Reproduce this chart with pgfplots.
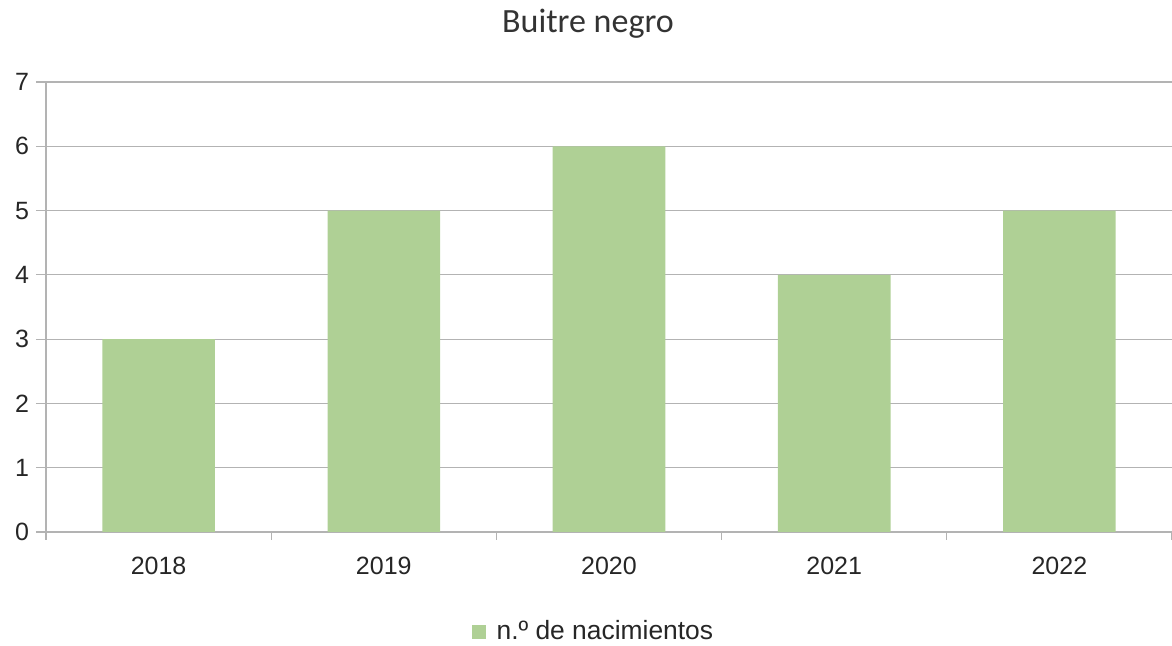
\documentclass[border=0pt]{standalone}
\usepackage{pgfplots}
\pgfplotsset{compat=1.18}
\usepackage{fontspec}
\setmainfont{Liberation Sans}
\newfontfamily\titlefont{Carlito}
\definecolor{barc}{HTML}{AFD095}
\definecolor{gridc}{HTML}{B3B3B3}
\begin{document}
\begin{tikzpicture}
\begin{axis}[
  at={(0,0)}, anchor=south west,
  scale only axis,
  width=563pt, height=225pt,
  xmin=-0.5, xmax=4.5,
  ymin=0, ymax=7,
  ytick={0,1,...,7},
  xtick={0,1,2,3,4},
  xticklabels={2018,2019,2020,2021,2022},
  minor xtick={-0.5,0.5,1.5,2.5,3.5,4.5},
  major x tick style={draw=none},
  minor x tick style={draw=gridc, line width=0.6pt},
  minor tick length=4pt,
  major tick length=5pt,
  tick align=outside,
  y tick style={draw=gridc, line width=0.6pt},
  axis x line*=bottom, axis y line*=left,
  axis line style={draw=gridc, line width=0.6pt, -},
  ymajorgrids,
  grid style={draw=gridc, line width=0.6pt},
  /pgf/number format/assume math mode=true,
  tick label style={font=\fontsize{12.5}{14}\selectfont, text=black!85},
  xticklabel style={yshift=-4pt},
  ybar, bar width=0.5,
  legend style={at={(0.487,-0.222)}, anchor=center, draw=none, fill=none,
    font=\fontsize{13.2}{15}\selectfont, text=black!85,
    /tikz/every odd column/.append style={column sep=3.5pt}},
  legend image code/.code={\fill[barc] (-3.5pt,-3.5pt) rectangle (3.5pt,3.5pt);},
]
\addplot[fill=barc, draw=none] coordinates {(0,3) (1,5) (2,6) (3,4) (4,5)};
\addlegendentry{n.º de nacimientos}
\end{axis}
\node[anchor=base, font=\titlefont\fontsize{17}{20}\selectfont, text=black!80] at (271pt,249.5pt) {Buitre negro};
\pgfresetboundingbox
\path (-23pt,-57pt) rectangle (563pt,266pt);
\end{tikzpicture}
\end{document}
